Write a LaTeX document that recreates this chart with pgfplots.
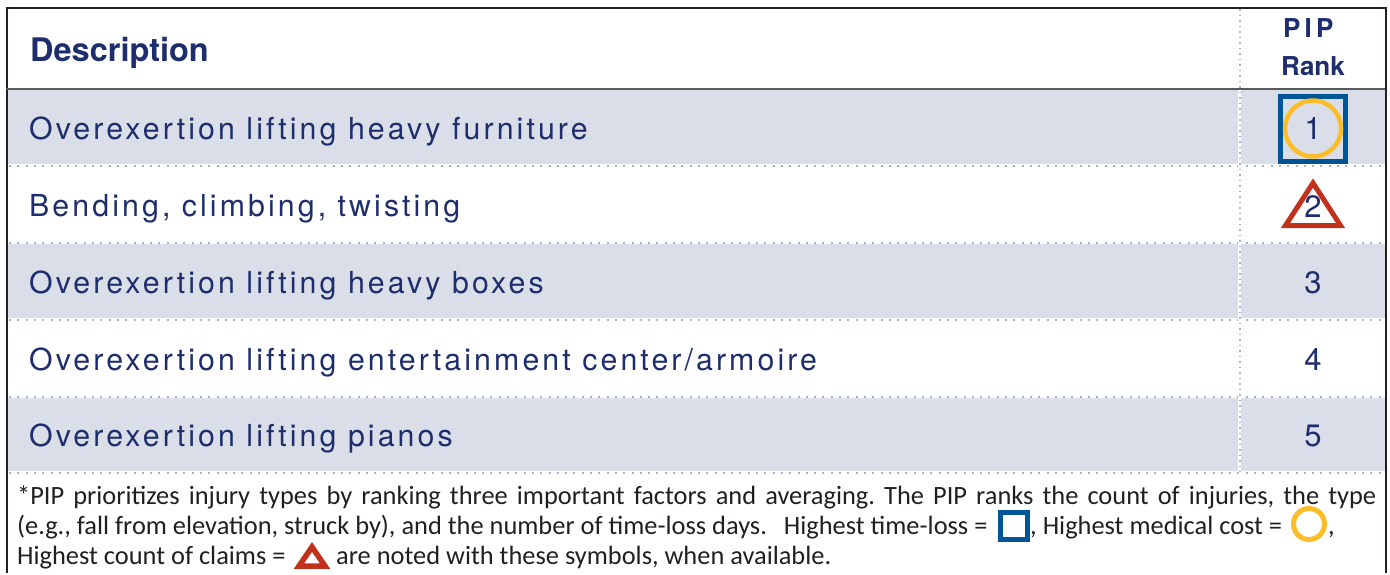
\documentclass[border=0pt]{standalone}
\usepackage{pgfplots}
\pgfplotsset{compat=1.18}
\usepackage{fontspec}
\setmainfont{TeX Gyre Heros}
\newfontfamily\rowfont[LetterSpace=10.2]{TeX Gyre Heros}
\newfontfamily\pipfont[LetterSpace=16]{TeX Gyre Heros}
\newfontfamily\notefont{Carlito}
\definecolor{navy}{RGB}{30,45,108}
\definecolor{rowshade}{RGB}{217,222,233}
\definecolor{dotcol}{RGB}{164,178,212}
\definecolor{sqblue}{RGB}{0,85,150}
\definecolor{cyellow}{RGB}{253,189,40}
\definecolor{tred}{RGB}{193,49,28}
\definecolor{notetext}{RGB}{35,31,32}
\definecolor{border}{RGB}{35,31,32}
\frenchspacing
\begin{document}
\begin{tikzpicture}[
  note/.style={anchor=base west, inner sep=0pt, text=notetext, font=\fontsize{26.4}{30}\notefont},
  row/.style={anchor=base west, inner sep=0pt, text=navy, font=\fontsize{30.3}{34}\rowfont},
]
\begin{axis}[
  width=1390pt, height=573pt, scale only axis,
  xmin=0, xmax=1390, ymin=0, ymax=573, y dir=reverse,
  hide axis, clip=false,
]
% page background
\addplot[fill=white, draw=none] coordinates {(0,0) (1390,0) (1390,573) (0,573) (0,0)};
% shaded rows
\addplot[fill=rowshade, draw=none] coordinates {(6,89) (1385,89) (1385,165) (6,165) (6,89)};
\addplot[fill=rowshade, draw=none] coordinates {(6,243) (1385,243) (1385,320) (6,320) (6,243)};
\addplot[fill=rowshade, draw=none] coordinates {(6,397) (1385,397) (1385,472.5) (6,472.5) (6,397)};
% horizontal separators
\foreach \yy in {165.5,242.5,319.5,396.5,472.5}{
  \edef\tmp{\noexpand\addplot[white, line width=3pt] coordinates {(6,\yy) (1385,\yy)};}\tmp
  \edef\tmp{\noexpand\addplot[dotcol, line width=2pt, dash pattern=on 2pt off 6.3pt] coordinates {(9,\yy) (1385,\yy)};}\tmp
}
% vertical separator
\addplot[white, line width=2.5pt] coordinates {(1239.5,90) (1239.5,472)};
\addplot[dotcol, line width=2pt, dash pattern=on 1.5pt off 4pt] coordinates {(1239.5,9) (1239.5,472)};
% borders
\addplot[border, line width=2pt] coordinates {(6.5,573) (6.5,7.5) (1385.5,7.5) (1385.5,573)};
\addplot[black!65, line width=2pt] coordinates {(6,89) (1385,89)};
% header
\node[anchor=base west, inner sep=0pt, text=navy, font=\fontsize{32.5}{36}\selectfont\bfseries] at (axis cs:30,61) {Description};
\node[anchor=base west, inner sep=0pt, text=navy, font=\fontsize{26}{30}\pipfont\bfseries] at (axis cs:1283,37) {PIP};
\node[anchor=base, inner sep=0pt, text=navy, font=\fontsize{26}{30}\selectfont\bfseries] at (axis cs:1313,75) {Rank};
% rows
\node[row] at (axis cs:29,139) {Overexertion lifting heavy furniture};
\node[row] at (axis cs:29,216) {Bending, climbing, twisting};
\node[row] at (axis cs:29,293) {Overexertion lifting heavy boxes};
\node[row] at (axis cs:29,370) {Overexertion lifting entertainment center/armoire};
\node[row] at (axis cs:29,446) {Overexertion lifting pianos};
% rank symbols
\addplot[sqblue, line width=5pt, line join=miter] coordinates {(1280.5,96.5) (1345.5,96.5) (1345.5,161.5) (1280.5,161.5)} -- cycle;
\addplot[only marks, mark=o, mark size=28pt, mark options={draw=cyellow, line width=4.5pt}] coordinates {(1313,128.5)};
\addplot[tred, line width=5pt, line join=miter] coordinates {(1285.5,225.5) (1340.5,225.5) (1313,183)} -- cycle;
% rank numbers
\foreach \r/\yy in {1/139,2/217,3/293,4/370,5/446}{
  \edef\tmp{\noexpand\node[anchor=base, inner sep=0pt, text=navy, font=\noexpand\fontsize{31}{34}\noexpand\selectfont] at (axis cs:1313,\yy) {\r};}\tmp
}
% footnote
\node[note] at (axis cs:17,504) {\makebox[1359pt][s]{*PIP prioritizes injury types by ranking three important factors and averaging. The PIP ranks the count of injuries, the type}};
\node[note] at (axis cs:17,534) {(e.g., fall from elevation, struck by), and the number of time-loss days.\hspace{17pt}Highest time-loss =};
\node[note] at (axis cs:1030,534) {, Highest medical cost =};
\node[note] at (axis cs:1328,534) {,};
\node[note] at (axis cs:17,564) {Highest count of claims =};
\node[note] at (axis cs:336,564) {are noted with these symbols, when available.};
% footnote symbols
\addplot[sqblue, line width=5pt, line join=miter] coordinates {(1000.5,512.5) (1027.5,512.5) (1027.5,539.5) (1000.5,539.5)} -- cycle;
\addplot[only marks, mark=o, mark size=15.5pt, mark options={draw=cyellow, line width=5pt}] coordinates {(1309,524)};
\addplot[tred, line width=5.5pt, line join=miter] coordinates {(299,566) (325,566) (312,547)} -- cycle;
\end{axis}
\end{tikzpicture}
\end{document}
